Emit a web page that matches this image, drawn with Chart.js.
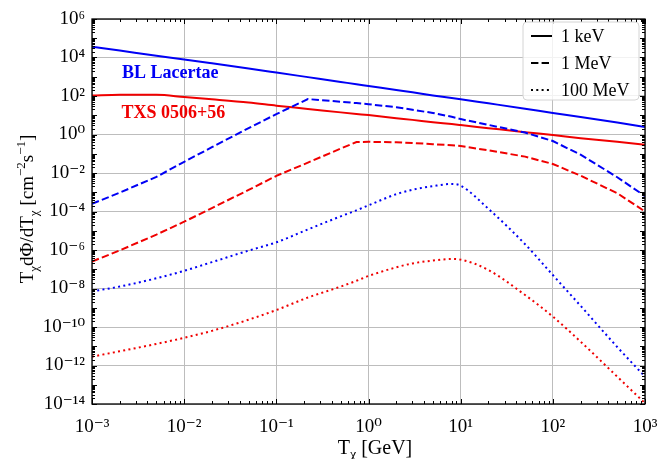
<!DOCTYPE html>
<html>
<head>
<meta charset="utf-8">
<script src="https://cdn.jsdelivr.net/npm/chart.js@4.4.1/dist/chart.umd.min.js"></script>
<style>
  html, body { margin: 0; padding: 0; background: #fff; }
  #wrap { width: 671px; height: 459px; position: relative; }
</style>
</head>
<body>
<div id="wrap"><canvas id="js-chartjs-flux"></canvas></div>
<script>
// Kinetic energy grid T_chi [GeV]
const energies = [1e-3, 2e-3, 5e-3, 1e-2, 2e-2, 5e-2, 0.1, 0.22, 0.5, 0.74, 1, 2, 3, 5, 8, 10, 20, 50, 100, 200, 500, 1000];

// BL Lacertae, T dPhi/dT [cm^-2 s^-1]
const blLac1keV = [3.63e4, 2.29e4, 1.23e4, 7.94e3, 5.01e3, 2.69e3, 1.66e3, 955, 537, 407, 331, 204, 155, 107, 79.4, 67.6, 41.7, 21.9, 13.2, 8.13, 4.17, 2.45];
const blLac1MeV = [2.51e-4, 9.55e-4, 6.31e-3, 3.80e-2, 0.219, 2.14, 11.5, 69.2, 50.1, 42.7, 37.2, 26.3, 19.1, 13.2, 8.32, 6.31, 3.16, 1.26, 0.457, 0.0891, 6.03e-3, 6.31e-4];
const blLac100MeV = [7.08e-9, 1.26e-8, 3.39e-8, 8.32e-8, 2.34e-7, 9.33e-7, 2.51e-6, 1.17e-5, 5.62e-5, 1.15e-4, 2.09e-4, 7.94e-4, 1.35e-3, 2.09e-3, 2.69e-3, 2.19e-3, 1.38e-4, 2.0e-6, 5.01e-8, 1.26e-9, 9.12e-12, 2.63e-13];

// TXS 0506+56
const txs1keV = [105, 117, 115, 89.1, 67.6, 45.7, 31.6, 21.4, 14.1, 11.7, 10.2, 7.08, 5.75, 4.37, 3.47, 3.09, 2.14, 1.32, 0.933, 0.646, 0.417, 0.295];
const txs1MeV = [2.51e-7, 9.55e-7, 6.31e-6, 2.95e-5, 1.51e-4, 1.32e-3, 7.08e-3, 3.47e-2, 0.186, 0.407, 0.417, 0.398, 0.363, 0.316, 0.275, 0.251, 0.151, 0.0708, 0.0295, 7.24e-3, 8.91e-4, 1.0e-4];
const txs100MeV = [2.88e-12, 5.50e-12, 1.32e-11, 2.75e-11, 6.31e-11, 2.40e-10, 7.59e-10, 3.39e-9, 1.26e-8, 2.51e-8, 4.47e-8, 1.26e-7, 2.0e-7, 2.82e-7, 3.39e-7, 3.16e-7, 9.12e-8, 4.57e-9, 3.47e-10, 1.74e-11, 2.63e-13, 1.10e-14];

// Axis ticks
const xTicks = [1e-3, 1e-2, 1e-1, 1, 10, 100, 1000];
const yTicks = [1e-14, 1e-12, 1e-10, 1e-8, 1e-6, 1e-4, 1e-2, 1, 1e2, 1e4, 1e6];

// Legend entries (mediator mass) and source labels
const legendLabels = ["1 keV", "1 MeV", "100 MeV"];
const sourceLabels = ["BL Lacertae", "TXS 0506+56"];

const SERIF = '"Liberation Serif", "Times New Roman", "DejaVu Serif", serif';
const BLUE = "#0000f5";
const RED = "#f00000";
const GRID = "#bdbdbd";
const DASHES = [[], [7.4, 3.2], [2, 3.3]];
const SUP = { "0": "⁰", "1": "¹", "2": "²", "3": "³", "4": "⁴", "5": "⁵", "6": "⁶", "7": "⁷", "8": "⁸", "9": "⁹", "-": "⁻" };

function pow10Label(v) {
  const e = Math.round(Math.log10(v));
  return "10" + String(e).split("").map((c) => SUP[c]).join("");
}

function series(label, ys, color, dash) {
  // dashed curves have sharp kinks, the others are smooth
  const smooth = dash.length === 0 || dash[0] < 3;
  return {
    label: label,
    data: energies.map((e, i) => ({ x: e, y: ys[i] })),
    borderColor: color,
    backgroundColor: color,
    borderWidth: 2,
    borderDash: dash,
    pointRadius: 0,
    fill: false,
    cubicInterpolationMode: smooth ? "monotone" : "default",
    tension: 0,
  };
}

// draw text pieces with sub/superscripts on the baseline
function drawRich(ctx, parts, size, centered) {
  const small = Math.round(size * 0.7);
  let w = 0;
  parts.forEach((p) => {
    ctx.font = (p[1] === 0 ? size : small) + "px " + SERIF;
    w += ctx.measureText(p[0]).width;
  });
  let x = centered ? -w / 2 : 0;
  parts.forEach((p) => {
    ctx.font = (p[1] === 0 ? size : small) + "px " + SERIF;
    const dy = p[1] === 1 ? -size * 0.42 : p[1] === -1 ? size * 0.25 : 0;
    ctx.fillText(p[0], x, dy);
    x += ctx.measureText(p[0]).width;
  });
}

const frameDecor = {
  id: "frameDecor",
  afterDraw(chart) {
    const ctx = chart.ctx;
    const a = chart.chartArea;
    const xs = chart.scales.x;
    const ys = chart.scales.y;
    ctx.save();

    // minor + major ticks, inward on all sides
    ctx.strokeStyle = "#000";
    ctx.lineWidth = 1;
    ctx.beginPath();
    for (let d = -3; d <= 3; d++) {
      for (let m = 1; m <= 9; m++) {
        const v = m * Math.pow(10, d);
        if (v > 1000) break;
        const px = Math.round(xs.getPixelForValue(v)) + 0.5;
        const len = m === 1 ? 5 : 3;
        ctx.moveTo(px, a.bottom); ctx.lineTo(px, a.bottom - len);
        ctx.moveTo(px, a.top); ctx.lineTo(px, a.top + len);
      }
    }
    for (let d = -14; d <= 6; d++) {
      for (let m = 1; m <= 9; m++) {
        const v = m * Math.pow(10, d);
        if (v > 1e6 * 1.01) break;
        const py = Math.round(ys.getPixelForValue(v)) + 0.5;
        const len = m === 1 ? 5 : 3;
        ctx.moveTo(a.left, py); ctx.lineTo(a.left + len, py);
        ctx.moveTo(a.right, py); ctx.lineTo(a.right - len, py);
      }
    }
    ctx.stroke();

    // frame
    ctx.lineWidth = 1.3;
    ctx.strokeRect(a.left, a.top, a.right - a.left, a.bottom - a.top);

    // axis titles
    ctx.fillStyle = "#000";
    ctx.textBaseline = "alphabetic";
    ctx.textAlign = "left";
    ctx.save();
    ctx.translate(375, 454);
    drawRich(ctx, [["T", 0], ["χ", -1], [" [GeV]", 0]], 20, true);
    ctx.restore();
    ctx.save();
    ctx.translate(33, 209);
    ctx.rotate(-Math.PI / 2);
    drawRich(ctx, [["T", 0], ["χ", -1], ["dΦ/dT", 0], ["χ", -1], [" [cm", 0], ["−2", 1], ["s", 0], ["−1", 1], ["]", 0]], 19, true);
    ctx.restore();

    // source labels
    ctx.font = "bold 18px " + SERIF;
    ctx.textBaseline = "middle";
    ctx.fillStyle = BLUE;
    ctx.fillText(sourceLabels[0], xs.getPixelForValue(2.12e-3), ys.getPixelForValue(1.55e3));
    ctx.fillStyle = RED;
    ctx.fillText(sourceLabels[1], xs.getPixelForValue(2.09e-3), ys.getPixelForValue(12.3));

    // legend box
    const lx = 523, ly = 22, lw = 116, lh = 78;
    ctx.beginPath();
    ctx.roundRect(lx, ly, lw, lh, 4);
    ctx.fillStyle = "rgba(255,255,255,0.8)";
    ctx.fill();
    ctx.strokeStyle = "#d4d4d4";
    ctx.lineWidth = 1;
    ctx.stroke();
    ctx.font = "18px " + SERIF;
    legendLabels.forEach((t, i) => {
      const y = 36 + i * 27;
      ctx.beginPath();
      ctx.setLineDash(DASHES[i]);
      ctx.strokeStyle = "#000";
      ctx.lineWidth = 2;
      ctx.moveTo(531, y);
      ctx.lineTo(552, y);
      ctx.stroke();
      ctx.setLineDash([]);
      ctx.fillStyle = "#000";
      ctx.fillText(t, 561, y + 1);
    });
    ctx.restore();
  },
};

const ctxFlux = document.getElementById("js-chartjs-flux");
new Chart(ctxFlux, {
  type: "line",
  data: {
    datasets: [
      series("BL Lacertae 1 keV", blLac1keV, BLUE, DASHES[0]),
      series("BL Lacertae 1 MeV", blLac1MeV, BLUE, DASHES[1]),
      series("BL Lacertae 100 MeV", blLac100MeV, BLUE, DASHES[2]),
      series("TXS 0506+56 1 keV", txs1keV, RED, DASHES[0]),
      series("TXS 0506+56 1 MeV", txs1MeV, RED, DASHES[1]),
      series("TXS 0506+56 100 MeV", txs100MeV, RED, DASHES[2]),
    ],
  },
  options: {
    responsive: true,
    maintainAspectRatio: false,
    animation: false,
    layout: { padding: { left: 0, top: 19, right: 26, bottom: 0 } },
    plugins: { legend: { display: false }, tooltip: { enabled: false } },
    scales: {
      x: {
        type: "logarithmic",
        min: 1e-3,
        max: 1e3,
        afterBuildTicks: (s) => { s.ticks = xTicks.map((v) => ({ value: v })); },
        afterFit: (s) => { s.height = 55; },
        grid: { color: GRID, lineWidth: 1, drawTicks: false },
        border: { display: false },
        ticks: {
          color: "#000",
          font: { family: SERIF, size: 19 },
          padding: 12,
          autoSkip: false,
          maxRotation: 0,
          callback: (v) => pow10Label(v),
        },
      },
      y: {
        type: "logarithmic",
        min: 1e-14,
        max: 1e6,
        afterBuildTicks: (s) => { s.ticks = yTicks.map((v) => ({ value: v })); },
        afterFit: (s) => { s.width = 92; },
        grid: { color: GRID, lineWidth: 1, drawTicks: false },
        border: { display: false },
        ticks: {
          color: "#000",
          font: { family: SERIF, size: 19 },
          padding: 7,
          autoSkip: false,
          callback: (v) => pow10Label(v),
        },
      },
    },
  },
  plugins: [frameDecor],
});
</script>
</body>
</html>
